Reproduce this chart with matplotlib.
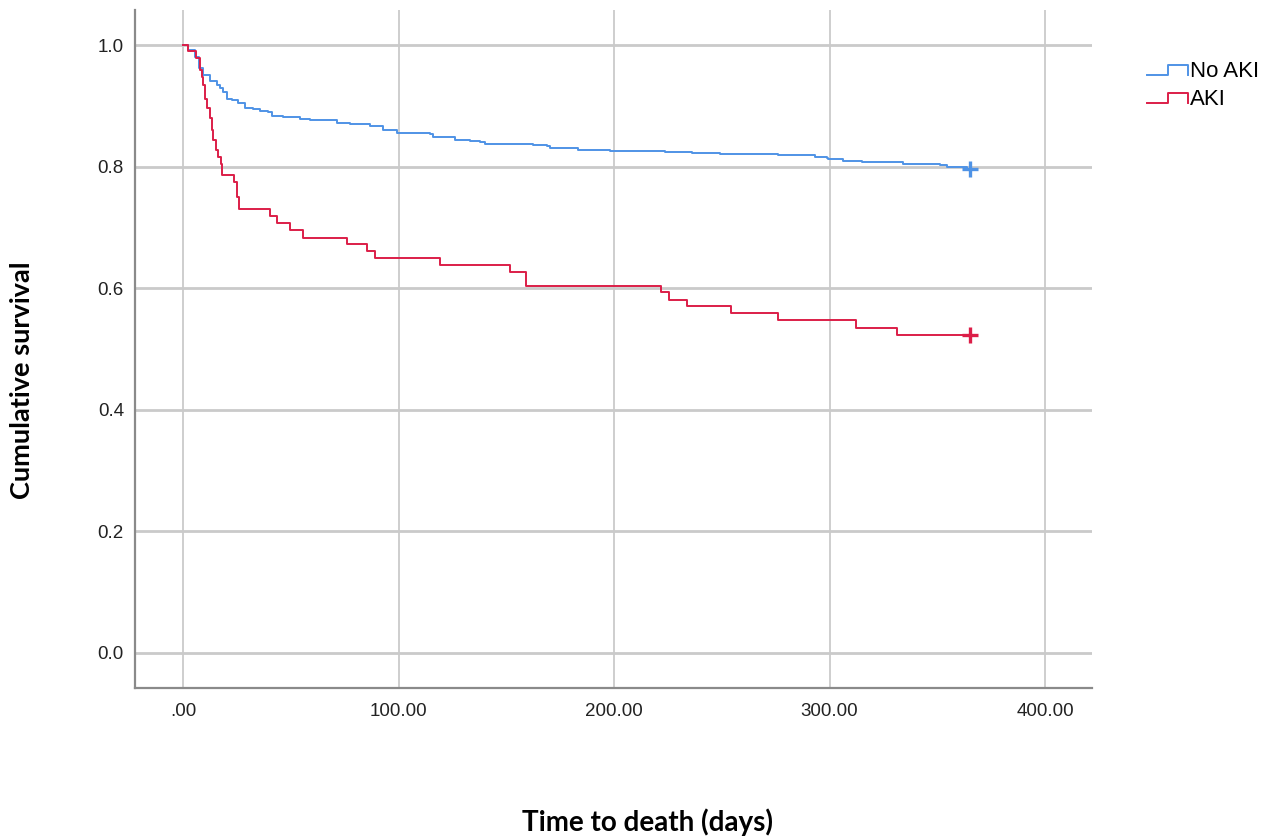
import matplotlib.pyplot as plt
from matplotlib.legend_handler import HandlerBase
from matplotlib.lines import Line2D

# Kaplan-Meier step estimates: time of each event (days) and survival after it
noaki_t = [0, 2.5, 5.6, 7.6, 9.4, 12.5, 15.6, 17.2, 18.7, 20.3, 22.6, 25.7,
           28.8, 32.6, 35.7, 39.6, 41.1, 46.5, 54.3, 58.9, 68.2, 71.3, 77.5,
           86.8, 92.9, 99.2, 107.7, 114.6, 116.2, 126.2, 133.2, 137.8, 140.1,
           151.7, 162.6, 168.8, 170.3, 183.4, 198.1, 223.7, 236.1, 249.2,
           251.5, 276.3, 293.3, 298.7, 299.5, 306.4, 315.0, 334.3, 351.3,
           354.4, 364.0]
noaki_s = [1.0, 0.992, 0.981, 0.962, 0.951, 0.940, 0.934, 0.929, 0.923, 0.912,
           0.910, 0.904, 0.897, 0.894, 0.892, 0.890, 0.883, 0.881, 0.879,
           0.877, 0.876, 0.871, 0.870, 0.866, 0.860, 0.856, 0.855, 0.853,
           0.848, 0.843, 0.842, 0.840, 0.838, 0.837, 0.836, 0.834, 0.830,
           0.828, 0.826, 0.8245, 0.823, 0.821, 0.820, 0.8185, 0.816, 0.8146,
           0.812, 0.810, 0.808, 0.805, 0.803, 0.800, 0.796]

aki_t = [0, 2.5, 6.0, 7.9, 8.7, 9.4, 10.2, 11.3, 12.5, 13.3, 14.1, 15.2, 16.4,
         17.5, 18.2, 23.8, 24.9, 26.1, 40.4, 43.5, 49.7, 55.5, 76.2, 85.5,
         89.1, 119.3, 151.7, 159.2, 221.8, 225.7, 234.0, 254.3, 276.2, 312.1,
         331.2]
aki_s = [1.0, 0.990, 0.978, 0.959, 0.948, 0.934, 0.912, 0.896, 0.880, 0.860,
         0.844, 0.827, 0.816, 0.805, 0.786, 0.774, 0.750, 0.730, 0.718, 0.707,
         0.695, 0.683, 0.672, 0.662, 0.650, 0.638, 0.627, 0.604, 0.593, 0.581,
         0.570, 0.559, 0.547, 0.535, 0.523]

follow_up = 365.0
group_names = ["No AKI", "AKI"]
x_ticks = [0, 100, 200, 300, 400]
x_ticklabels = [".00", "100.00", "200.00", "300.00", "400.00"]
y_ticks = [0.0, 0.2, 0.4, 0.6, 0.8, 1.0]

blue = "#4f93e6"
red = "#dc1e48"


class StepHandler(HandlerBase):
    """Legend key drawn as a small step instead of a straight line."""

    def create_artists(self, legend, orig_handle, xdescent, ydescent,
                       width, height, fontsize, trans):
        x0 = -xdescent
        lo = -ydescent + 0.12 * height
        hi = -ydescent + 0.75 * height
        xs = [x0, x0 + 0.5 * width, x0 + 0.5 * width, x0 + width, x0 + width]
        ys = [lo, lo, hi, hi, lo]
        line = Line2D(xs, ys, color=orig_handle.get_color(), lw=1.4)
        line.set_transform(trans)
        return [line]


fig = plt.figure(figsize=(12.72, 8.39), dpi=100)
ax = fig.add_axes([135 / 1272, 1 - 688 / 839, (1092 - 135) / 1272, (688 - 10) / 839])

ax.set_xlim(-22.3, 421.8)
ax.set_ylim(-0.0576, 1.0576)

for y in y_ticks:
    ax.axhline(y, color="#cacaca", lw=2.0, zorder=0)
for x in x_ticks:
    ax.axvline(x, color="#cacaca", lw=1.3, zorder=0)

handles = []
for t, s, c in [(noaki_t, noaki_s, blue), (aki_t, aki_s, red)]:
    ts = list(t) + [follow_up]
    ss = list(s) + [s[-1]]
    h, = ax.step(ts, ss, where="post", color=c, lw=1.4, zorder=3)
    ax.plot(follow_up, s[-1], marker="+", ms=11, mew=2.4, color=c, zorder=4)
    handles.append(h)

ax.set_xticks(x_ticks)
ax.set_xticklabels(x_ticklabels)
ax.set_yticks(y_ticks)
ax.set_yticklabels([f"{v:.1f}" for v in y_ticks])
ax.tick_params(length=0, labelsize=13.5, colors="#222222")
ax.tick_params(axis="x", pad=11)
ax.tick_params(axis="y", pad=8)
for lab in ax.get_xticklabels() + ax.get_yticklabels():
    lab.set_family("Liberation Sans")

for side in ["top", "right"]:
    ax.spines[side].set_visible(False)
for side in ["left", "bottom"]:
    ax.spines[side].set_color("#8a8a8a")
    ax.spines[side].set_linewidth(1.6)

fig.legend(handles, group_names, handler_map={Line2D: StepHandler()},
           loc="upper left", bbox_to_anchor=(1147 / 1272, 1 - 61 / 839),
           frameon=False, handlelength=1.85, handletextpad=0.08,
           labelspacing=0.3, borderpad=0, borderaxespad=0,
           prop={"family": "Liberation Sans", "size": 16})

fig.text(22 / 1272, 1 - 380 / 839, "Cumulative survival", rotation=90,
         ha="center", va="center", family="Lato", weight="bold", fontsize=19.5)
fig.text(647 / 1272, 1 - 822 / 839, "Time to death (days)",
         ha="center", va="center", family="Lato", weight="bold", fontsize=20)

fig.savefig("out.png", dpi=100, facecolor="white")
